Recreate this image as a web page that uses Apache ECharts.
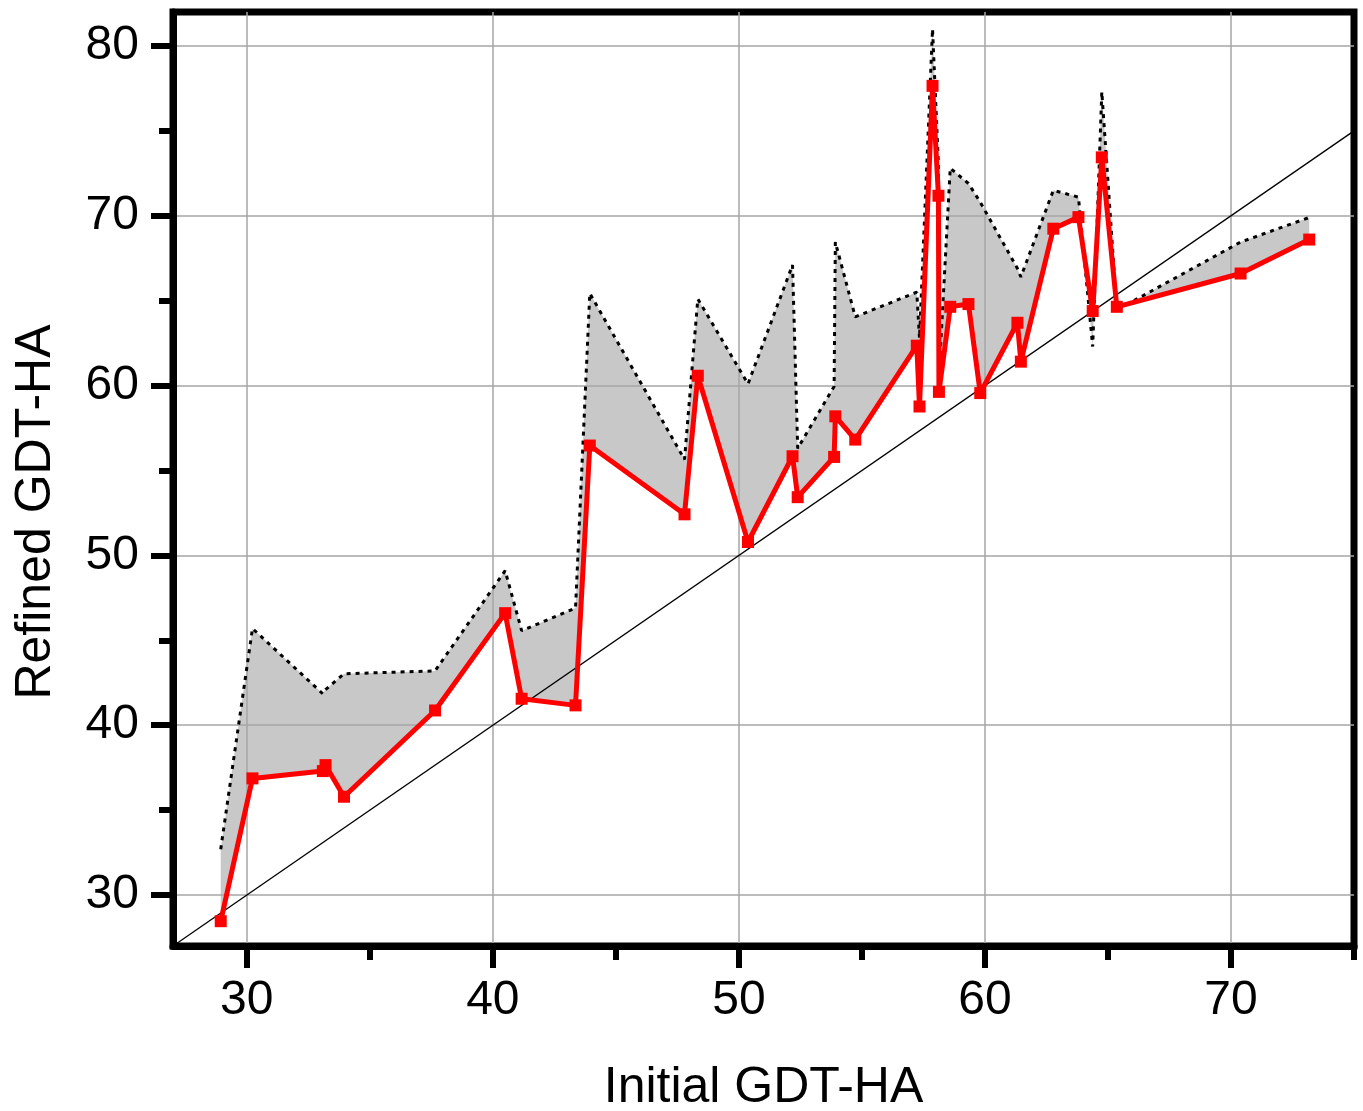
<!DOCTYPE html>
<html><head><meta charset="utf-8">
<script src="https://cdn.jsdelivr.net/npm/echarts@6/dist/echarts.min.js"></script>
<style>html,body{margin:0;padding:0;background:#fff}#c{width:1363px;height:1111px}</style>
</head><body><div id="c"></div>
<script>
const initialGDT = [28.94, 30.23, 33.09, 33.2, 33.95, 37.65, 40.5, 41.17, 43.36, 43.94, 47.79, 48.33, 50.37, 52.18, 52.39, 53.87, 53.92, 54.73, 57.23, 57.34, 57.87, 58.11, 58.13, 58.59, 59.33, 59.81, 61.32, 61.46, 62.78, 63.8, 64.38, 64.75, 65.36, 70.39, 73.18];
const refinedGDT = [28.46, 36.87, 37.3, 37.65, 35.79, 40.87, 46.6, 41.56, 41.17, 56.47, 52.42, 60.58, 50.79, 55.84, 53.43, 55.8, 58.19, 56.82, 62.35, 58.77, 77.65, 71.18, 59.63, 64.64, 64.8, 59.56, 63.7, 61.41, 69.24, 69.92, 64.39, 73.44, 64.64, 66.6, 68.6];
const upperGDT = [32.7, 45.7, 41.85, 42.1, 43.03, 43.2, 49.1, 45.57, 46.9, 65.43, 55.65, 65.1, 60.1, 67.1, 56.3, 59.95, 68.45, 64.05, 65.5, 62.8, 81.0, 73.0, 60.5, 72.8, 71.9, 70.8, 66.9, 66.4, 71.5, 71.1, 62.3, 77.3, 64.45, 68.45, 69.9];
const xMajorTicks = [30, 40, 50, 60, 70];
const xMinorTicks = [35, 45, 55, 65, 75];
const yMajorTicks = [30, 40, 50, 60, 70, 80];
const yMinorTicks = [35, 45, 55, 65, 75];
const diagonal = [[27, 27], [75, 75]];

const FONT = "'Liberation Sans', Arial, sans-serif";
const zip = (a, b) => a.map((v, i) => [v, b[i]]);

const chart = echarts.init(document.getElementById('c'), null, {renderer: 'canvas'});
const xBase = {type: 'value', min: 27, max: 75, position: 'bottom'};
const yBase = {type: 'value', min: 27, max: 82, position: 'left'};
chart.setOption({
  animation: false,
  backgroundColor: '#fff',
  grid: {left: 173, top: 12, right: 9, bottom: 165, show: true, borderColor: '#000', borderWidth: 7, backgroundColor: 'transparent', containLabel: false, outerBoundsMode: 'none'},
  xAxis: [
    Object.assign({}, xBase, {
      axisLine: {show: true, onZero: false, lineStyle: {color: '#000', width: 7}},
      axisTick: {show: true, customValues: xMajorTicks, length: 22, lineStyle: {color: '#000', width: 6}},
      axisLabel: {show: true, customValues: xMajorTicks, margin: 31, fontSize: 48, color: '#000', fontFamily: FONT},
      splitLine: {show: true, lineStyle: {color: '#a6a6a6', width: 1.5}},
      name: 'Initial GDT-HA', nameLocation: 'middle', nameGap: 117,
      nameTextStyle: {fontSize: 50, color: '#000', fontFamily: FONT}
    }),
    Object.assign({}, xBase, {
      axisLine: {show: false, onZero: false},
      axisTick: {show: true, customValues: xMinorTicks, length: 14, lineStyle: {color: '#000', width: 6}},
      axisLabel: {show: false},
      splitLine: {show: false}
    })
  ],
  yAxis: [
    Object.assign({}, yBase, {
      axisLine: {show: true, onZero: false, lineStyle: {color: '#000', width: 7}},
      axisTick: {show: true, customValues: yMajorTicks, length: 22, lineStyle: {color: '#000', width: 6}},
      axisLabel: {show: true, customValues: yMajorTicks, margin: 34, fontSize: 48, color: '#000', fontFamily: FONT},
      splitLine: {show: true, lineStyle: {color: '#a6a6a6', width: 1.5}},
      name: 'Refined GDT-HA', nameLocation: 'middle', nameGap: 112, nameRotate: 90,
      nameTextStyle: {fontSize: 50, color: '#000', fontFamily: FONT, padding: [0, 66, 0, 0]}
    }),
    Object.assign({}, yBase, {
      axisLine: {show: false, onZero: false},
      axisTick: {show: true, customValues: yMinorTicks, length: 14, lineStyle: {color: '#000', width: 6}},
      axisLabel: {show: false},
      splitLine: {show: false}
    })
  ],
  series: [
    {
      type: 'custom', z: -1, silent: true, clip: true,
      xAxisIndex: 0, yAxisIndex: 0,
      data: [[initialGDT[0], upperGDT[0]]],
      encode: {x: 0, y: 1},
      renderItem: function (params, api) {
        if (params.dataIndex !== 0) return;
        const pts = [];
        for (let i = 0; i < initialGDT.length; i++) pts.push(api.coord([initialGDT[i], upperGDT[i]]));
        for (let i = initialGDT.length - 1; i >= 0; i--) pts.push(api.coord([initialGDT[i], refinedGDT[i]]));
        return {type: 'polygon', shape: {points: pts}, style: {fill: '#c8c8c8', stroke: null}};
      }
    },
    {
      type: 'line', data: diagonal, symbol: 'none', silent: true,
      lineStyle: {color: '#000', width: 1.3}
    },
    {
      type: 'line', data: zip(initialGDT, upperGDT), symbol: 'none', silent: true,
      lineStyle: {color: '#000', width: 3, type: [4, 5]}
    },
    {
      type: 'line', data: zip(initialGDT, refinedGDT), symbol: 'rect', symbolSize: 12, silent: true,
      itemStyle: {color: '#ff0000'},
      lineStyle: {color: '#ff0000', width: 5}
    }
  ]
});
</script>
</body></html>
